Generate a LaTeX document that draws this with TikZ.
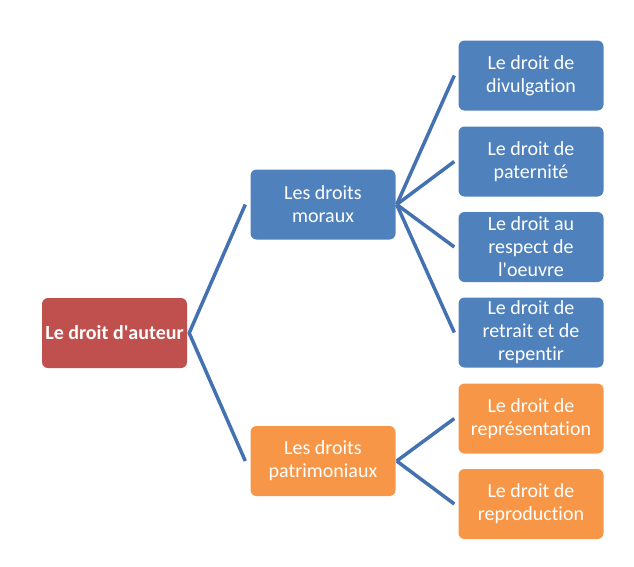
\documentclass[tikz,border=0pt]{standalone}
\usepackage{fontspec}
\setmainfont{Carlito}[Ligatures={ResetAll,NoCommon}]
\usepackage{tikz}
\usetikzlibrary{calc,positioning}
\definecolor{AuteurRed}{RGB}{192,80,77}
\definecolor{MoralBlue}{RGB}{79,129,189}
\definecolor{PatriOrange}{RGB}{247,150,70}
\definecolor{LinkBlue}{RGB}{68,114,176}
\begin{document}
\begin{tikzpicture}[x=1pt,y=-1pt,
  box/.style={rounded corners=6pt,minimum width=145pt,minimum height=70pt,align=center,text=white,inner sep=1pt,font=\fontsize{20}{23}\selectfont},
  link/.style={LinkBlue,line width=3.5pt}]
\useasboundingbox (0,0) rectangle (634,566);
\node[box,fill=AuteurRed,font=\fontsize{20}{23}\selectfont\bfseries] (auteur) at (114.5,333){Le droit d\textquotesingle auteur};
\node[box,fill=MoralBlue] (moraux) at (323,204.5){Les droits\\moraux};
\node[box,fill=PatriOrange] (patri) at (323,461){Les droits\\patrimoniaux};
\node[box,fill=MoralBlue] (divulg) at (531,75.5){Le droit de\\divulgation};
\node[box,fill=MoralBlue] (patern) at (531,161.5){Le droit de\\paternité};
\node[box,fill=MoralBlue] (respect) at (531,247){Le droit au\\respect de\\l\textquotesingle oeuvre};
\node[box,fill=MoralBlue] (retrait) at (531,332.5){Le droit de\\retrait et de\\repentir};
\node[box,fill=PatriOrange] (repres) at (531,418.5){Le droit de\\représentation};
\node[box,fill=PatriOrange] (reprod) at (531,504){Le droit de\\reproduction};
\draw[link] ([xshift=-5pt]moraux.west)--([xshift=2pt]auteur.east)--([xshift=-5pt]patri.west);
\foreach \c in {divulg,patern,respect,retrait}{\draw[link] ([xshift=1pt]moraux.east)--([xshift=-4pt]\c.west);}
\foreach \c in {repres,reprod}{\draw[link] ([xshift=1pt]patri.east)--([xshift=-4pt]\c.west);}
\end{tikzpicture}
\end{document}
